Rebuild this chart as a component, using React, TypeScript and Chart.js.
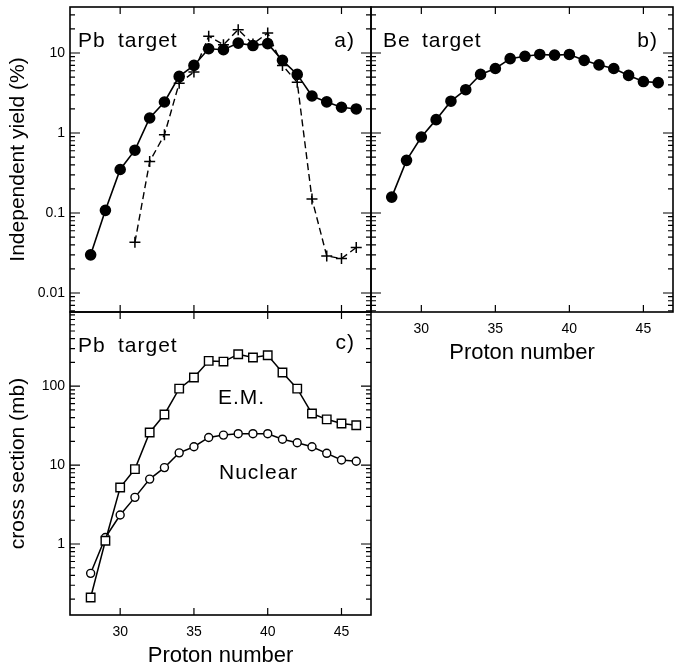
import React, { useEffect, useRef } from 'react';
import { Chart, registerables } from 'chart.js';
Chart.register(...registerables);

// ---------------- data ----------------
const protonNumbers = [28, 29, 30, 31, 32, 33, 34, 35, 36, 37, 38, 39, 40, 41, 42, 43, 44, 45, 46];
// a) Pb target, independent yield (%) — filled circles (solid line)
const pbYieldCircles = [0.030, 0.108, 0.35, 0.61, 1.54, 2.44, 5.1, 7.0, 11.3, 11.0, 13.3, 12.4, 13.1, 8.1, 5.4, 2.9, 2.45, 2.1, 2.0];
// a) Pb target — crosses (dashed line)
const pbCrossProtons = [31, 32, 33, 34, 35, 36, 37, 38, 39, 40, 41, 42, 43, 44, 45, 46];
const pbYieldCrosses = [0.043, 0.44, 0.95, 4.2, 5.8, 16.2, 12.7, 19.6, 13.0, 17.8, 7.0, 4.3, 0.15, 0.029, 0.027, 0.037];
// b) Be target, independent yield (%)
const beYield = [0.158, 0.455, 0.89, 1.47, 2.5, 3.48, 5.4, 6.4, 8.5, 9.1, 9.6, 9.4, 9.6, 8.1, 7.1, 6.4, 5.25, 4.4, 4.26];
// c) Pb target, cross section (mb)
const emCrossSection = [0.21, 1.10, 5.2, 8.9, 25.9, 43.8, 93, 129, 209, 205, 254, 231, 247, 149, 93, 45, 38, 33.6, 32];
const nuclearCrossSection = [0.425, 1.21, 2.33, 3.9, 6.65, 9.3, 14.3, 17.1, 22.4, 24, 25, 25, 25, 21.3, 19.2, 17.1, 14.1, 11.6, 11.2];

const xTickValues = [30, 35, 40, 45];
const yieldTickValues = [0.01, 0.1, 1, 10];
const crossTickValues = [1, 10, 100];

// ---------------- layout constants ----------------
const OFF = 100;
const CW = 675 + 2 * OFF;
const CH = 671 + 2 * OFF;
const X_MIN = 26.6;
const X_MAX = 47.0;
const FONT = 'Liberation Sans, Arial, Helvetica, sans-serif';

type Label = { text: string; dx: number; dy: number; align?: 'left' | 'right'; fromRight?: boolean };

function framePlugin(labels: Label[]) {
  return {
    id: 'frameTicks',
    afterDraw(chart: any) {
      const { ctx, chartArea } = chart;
      const { left, right, top, bottom } = chartArea;
      const xs = chart.scales.x;
      const ys = chart.scales.y;
      ctx.save();
      ctx.strokeStyle = '#000';
      ctx.lineWidth = 1.6;
      ctx.strokeRect(left, top, right - left, bottom - top);
      ctx.lineWidth = 1.2;
      ctx.beginPath();
      for (const v of xTickValues) {
        const px = xs.getPixelForValue(v);
        ctx.moveTo(px, top);
        ctx.lineTo(px, top + 7);
        ctx.moveTo(px, bottom);
        ctx.lineTo(px, bottom - 7);
      }
      const yMin = ys.min;
      const yMax = ys.max;
      for (let e = Math.floor(Math.log10(yMin)); e <= Math.ceil(Math.log10(yMax)); e++) {
        for (let k = 1; k <= 9; k++) {
          const v = k * Math.pow(10, e);
          if (v <= yMin || v >= yMax) continue;
          const len = k === 1 ? 10 : 5;
          const py = ys.getPixelForValue(v);
          ctx.moveTo(left, py);
          ctx.lineTo(left + len, py);
          ctx.moveTo(right, py);
          ctx.lineTo(right - len, py);
        }
      }
      ctx.stroke();
      ctx.fillStyle = '#000';
      ctx.font = `21px ${FONT}`;
      (ctx as any).letterSpacing = '1px';
      ctx.textBaseline = 'alphabetic';
      for (const l of labels) {
        ctx.textAlign = l.align || 'left';
        const x = l.fromRight ? right - l.dx : left + l.dx;
        ctx.fillText(l.text, x, top + l.dy);
      }
      ctx.restore();
    },
  };
}

function xScale(display: boolean) {
  return {
    type: 'linear' as const,
    min: X_MIN,
    max: X_MAX,
    display,
    afterBuildTicks: (s: any) => {
      s.ticks = xTickValues.map((v) => ({ value: v }));
    },
    grid: { display: false, drawTicks: false },
    border: { display: false },
    ticks: {
      autoSkip: false,
      padding: 9,
      color: '#000',
      font: { family: FONT, size: 14 },
      callback: (v: any) => String(v),
    },
    title: {
      display: display,
      text: 'Proton number',
      color: '#000',
      font: { family: FONT, size: 22 },
      padding: { top: 0, bottom: 8 },
    },
    afterFit: (s: any) => {
      if (display) s.height = 62;
    },
  };
}

function yScale(display: boolean, min: number, max: number, tickValues: number[], title: string) {
  return {
    type: 'logarithmic' as const,
    min,
    max,
    display,
    afterBuildTicks: (s: any) => {
      s.ticks = tickValues.map((v) => ({ value: v }));
    },
    grid: { display: false, drawTicks: false },
    border: { display: false },
    ticks: {
      autoSkip: false,
      padding: 5,
      color: '#000',
      font: { family: FONT, size: 14 },
      callback: (v: any) => String(v),
    },
    title: {
      display: display,
      text: title,
      color: '#000',
      font: { family: FONT, size: 21 },
      padding: { top: 6, bottom: 0 },
    },
    afterFit: (s: any) => {
      if (display) s.width = 70;
    },
  };
}

function pairs(xs: number[], ys: number[]) {
  return xs.map((x, i) => ({ x, y: ys[i] }));
}

const common = {
  responsive: false,
  animation: false as const,
  devicePixelRatio: 1,
  plugins: { legend: { display: false }, tooltip: { enabled: false } },
  events: [] as any[],
};

export default function App() {
  const refA = useRef<HTMLCanvasElement>(null);
  const refB = useRef<HTMLCanvasElement>(null);
  const refC = useRef<HTMLCanvasElement>(null);

  useEffect(() => {
    const charts: Chart[] = [];

    // Panel a
    charts.push(
      new Chart(refA.current!, {
        type: 'line',
        data: {
          datasets: [
            {
              data: pairs(protonNumbers, pbYieldCircles),
              borderColor: '#000',
              borderWidth: 1.6,
              pointStyle: 'circle',
              pointRadius: 5,
              pointBackgroundColor: '#000',
              pointBorderColor: '#000',
              tension: 0,
            },
            {
              data: pairs(pbCrossProtons, pbYieldCrosses),
              borderColor: '#000',
              borderWidth: 1.4,
              borderDash: [7, 4],
              pointStyle: 'cross',
              pointRadius: 5.5,
              pointBorderWidth: 1.5,
              pointBorderColor: '#000',
              tension: 0,
            },
          ],
        },
        options: {
          ...common,
          layout: { padding: { left: OFF, top: OFF + 7, right: CW - (OFF + 371), bottom: CH - (OFF + 312) } },
          scales: {
            x: xScale(false),
            y: yScale(true, 0.00579, 37.6, yieldTickValues, 'Independent yield (%)'),
          },
        } as any,
        plugins: [
          framePlugin([
            { text: 'Pb', dx: 8, dy: 40 },
            { text: 'target', dx: 48, dy: 40 },
            { text: 'a)', dx: 16, dy: 40, align: 'right', fromRight: true },
          ]),
        ],
      })
    );

    // Panel b
    charts.push(
      new Chart(refB.current!, {
        type: 'line',
        data: {
          datasets: [
            {
              data: pairs(protonNumbers, beYield),
              borderColor: '#000',
              borderWidth: 1.6,
              pointStyle: 'circle',
              pointRadius: 5,
              pointBackgroundColor: '#000',
              pointBorderColor: '#000',
              tension: 0,
            },
          ],
        },
        options: {
          ...common,
          layout: { padding: { left: OFF + 371, top: OFF + 7, right: CW - (OFF + 673), bottom: CH - (OFF + 312 + 62) } },
          scales: {
            x: xScale(true),
            y: yScale(false, 0.00579, 37.6, yieldTickValues, ''),
          },
        } as any,
        plugins: [
          framePlugin([
            { text: 'Be', dx: 12, dy: 40 },
            { text: 'target', dx: 51, dy: 40 },
            { text: 'b)', dx: 15, dy: 40, align: 'right', fromRight: true },
          ]),
        ],
      })
    );

    // Panel c
    charts.push(
      new Chart(refC.current!, {
        type: 'line',
        data: {
          datasets: [
            {
              data: pairs(protonNumbers, emCrossSection),
              borderColor: '#000',
              borderWidth: 1.5,
              pointStyle: 'rect',
              pointRadius: 6,
              pointBackgroundColor: '#fff',
              pointBorderColor: '#000',
              pointBorderWidth: 1.4,
              tension: 0,
            },
            {
              data: pairs(protonNumbers, nuclearCrossSection),
              borderColor: '#000',
              borderWidth: 1.5,
              pointStyle: 'circle',
              pointRadius: 4,
              pointBackgroundColor: '#fff',
              pointBorderColor: '#000',
              pointBorderWidth: 1.4,
              tension: 0,
            },
          ],
        },
        options: {
          ...common,
          layout: { padding: { left: OFF, top: OFF + 312, right: CW - (OFF + 371), bottom: CH - (OFF + 615 + 62) } },
          scales: {
            x: xScale(true),
            y: yScale(true, 0.126, 871, crossTickValues, 'cross section (mb)'),
          },
        } as any,
        plugins: [
          framePlugin([
            { text: 'Pb', dx: 8, dy: 40 },
            { text: 'target', dx: 48, dy: 40 },
            { text: 'c)', dx: 16, dy: 37, align: 'right', fromRight: true },
            { text: 'E.M.', dx: 148, dy: 92 },
            { text: 'Nuclear', dx: 149, dy: 167 },
          ]),
        ],
      })
    );

    return () => charts.forEach((c) => c.destroy());
  }, []);

  const canvasStyle: React.CSSProperties = {
    position: 'absolute',
    left: -OFF,
    top: -OFF,
    width: CW,
    height: CH,
  };

  return (
    <div
      style={{
        position: 'absolute',
        left: 0,
        top: 0,
        width: 675,
        height: 671,
        overflow: 'hidden',
        background: '#fff',
      }}
    >
      <canvas ref={refA} width={CW} height={CH} style={canvasStyle} />
      <canvas ref={refB} width={CW} height={CH} style={canvasStyle} />
      <canvas ref={refC} width={CW} height={CH} style={canvasStyle} />
    </div>
  );
}
